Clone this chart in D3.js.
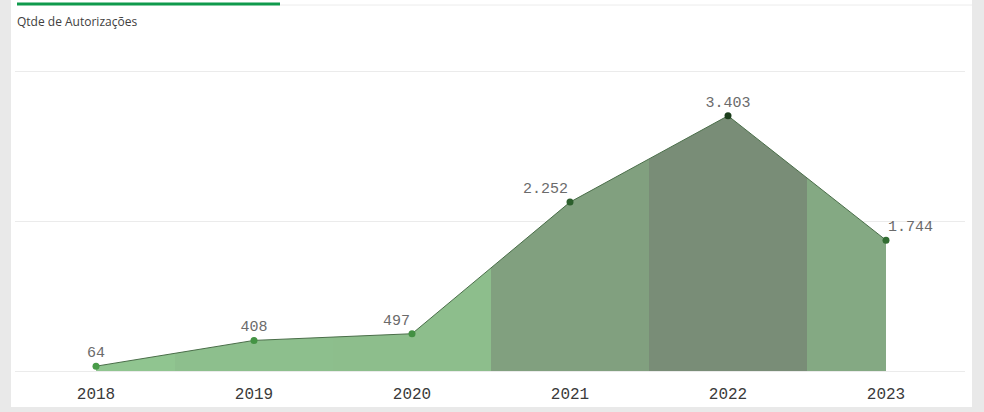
<!DOCTYPE html>
<html>
<head>
<meta charset="utf-8">
<script src="https://cdn.jsdelivr.net/npm/d3@7"></script>
<style>
  body { margin: 0; background: #e9e9e9; }
  #chart { width: 984px; height: 412px; }
  .title { font-family: "Open Sans", sans-serif; font-size: 12px; fill: #404040; }
  .label { font-family: "Liberation Mono", monospace; font-size: 15px; fill: #6b6b6b; }
  .tick text { font-family: "Liberation Mono", monospace; font-size: 16px; fill: #3a3a3a; }
</style>
</head>
<body>
<div id="chart"></div>
<script>

// chart data
var years = ["2018", "2019", "2020", "2021", "2022", "2023"];
var values = [64, 408, 497, 2252, 3403, 1744];
var gridTicks = [0, 2000, 4000];

var data = years.map((y, i) => ({ year: y, value: values[i] }));

// init size
var width = 984;
var height = 412;
var margin = { left: 17, right: 19, top: 71, bottom: 41 };

var svg = d3.select("#chart")
    .append("svg")
    .attr("width", width)
    .attr("height", height);

// card background
svg.append("rect")
    .attr("x", 11)
    .attr("y", 0)
    .attr("width", 961)
    .attr("height", 407)
    .attr("fill", "#ffffff");

// tab line
svg.append("line")
    .attr("x1", 280).attr("x2", 972)
    .attr("y1", 5).attr("y2", 5)
    .attr("stroke", "#ececec")
    .attr("stroke-width", 1);

svg.append("line")
    .attr("x1", 17).attr("x2", 280)
    .attr("y1", 4).attr("y2", 4)
    .attr("stroke", "#0f9a4c")
    .attr("stroke-width", 3);

svg.append("text")
    .attr("class", "title")
    .attr("x", 17)
    .attr("y", 26)
    .text("Qtde de Autorizações");

// init scales
var x = d3.scaleBand()
    .domain(years)
    .range([margin.left, width - margin.right]);

var y = d3.scaleLinear()
    .domain([0, 4000])
    .range([height - margin.bottom, margin.top]);

var cx = d => x(d.year) + x.bandwidth() / 2;

var fillColor = d3.scaleLinear()
    .domain([0, 3403])
    .range(["#90c690", "#798d77"])
    .interpolate(d3.interpolateRgb);

var dotColor = d3.scaleLinear()
    .domain([0, 3403])
    .range(["#4a9e4a", "#1c3f1c"]);

// grid lines
svg.append("g")
    .selectAll("line")
    .data(gridTicks)
    .enter().append("line")
    .attr("x1", margin.left - 2)
    .attr("x2", width - margin.right)
    .attr("y1", d => Math.round(y(d)) + 0.5)
    .attr("y2", d => Math.round(y(d)) + 0.5)
    .attr("stroke", "#ebebeb")
    .attr("stroke-width", 1);

// area split by band, colored by value
var area = d3.area()
    .x(cx)
    .y0(y(0))
    .y1(d => y(d.value));

var defs = svg.append("defs");
data.forEach(function(d, i) {
    defs.append("clipPath")
        .attr("id", "band" + i)
        .append("rect")
        .attr("x", x(d.year))
        .attr("y", 0)
        .attr("width", x.bandwidth())
        .attr("height", height);
});

svg.append("g")
    .selectAll("path")
    .data(data)
    .enter().append("path")
    .attr("d", area(data))
    .attr("clip-path", (d, i) => "url(#band" + i + ")")
    .attr("fill", d => fillColor(d.value));

// line
svg.append("path")
    .datum(data)
    .attr("d", d3.line().x(cx).y(d => y(d.value)))
    .attr("fill", "none")
    .attr("stroke", "#4a6e49")
    .attr("stroke-width", 1);

// dots
svg.append("g")
    .selectAll("circle")
    .data(data)
    .enter().append("circle")
    .attr("cx", cx)
    .attr("cy", d => y(d.value))
    .attr("r", 3.5)
    .attr("fill", d => dotColor(d.value));

// value labels
var fmt = d3.formatLocale({ decimal: ",", thousands: ".", grouping: [3], currency: ["", ""] }).format(",");

svg.append("g")
    .selectAll("text")
    .data(data)
    .enter().append("text")
    .attr("class", "label")
    .attr("x", function(d, i) {
        var a = anchorFor(i);
        return cx(d) + (a == "end" ? -2 : a == "start" ? 2 : 0);
    })
    .attr("y", d => y(d.value) - 9)
    .attr("text-anchor", (d, i) => anchorFor(i))
    .text(d => fmt(d.value));

function anchorFor(i) {
    if (i == data.length - 1) return "start";
    if (data[i + 1].value - data[i].value > 1000) return "end";
    return "middle";
}

// x axis
var xAxis = svg.append("g")
    .attr("transform", "translate(0," + y(0) + ")")
    .call(d3.axisBottom(x).tickSize(0).tickPadding(17));

xAxis.select(".domain").remove();

</script>
</body>
</html>
